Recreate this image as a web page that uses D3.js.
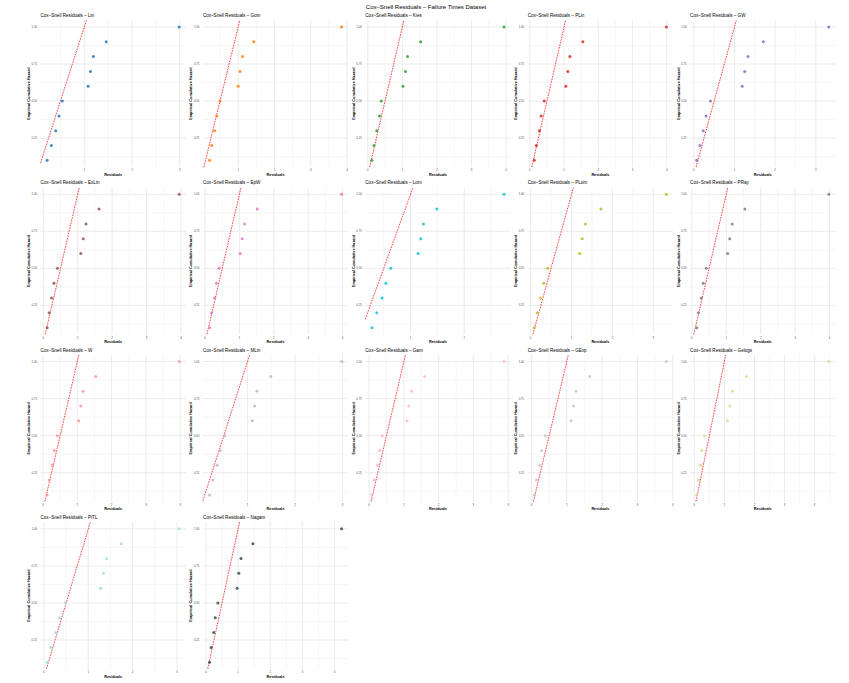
<!DOCTYPE html>
<html><head><meta charset="utf-8">
<script src="https://cdn.jsdelivr.net/npm/d3@7"></script>
<style>body{margin:0;background:#fff}svg{display:block}</style>
</head><body><svg id="c" width="849" height="683"></svg>
<script>
const mainTitle = "Cox–Snell Residuals – Failure Times Dataset";
const models = ["Lin","Gom","Kies","PLin","GW","ExLin","EpW","Lom","PLom","PRay","W","MLin","Gam","GExp","Gelogs","PiTL","Nagam"];
const modelColors = ["#1f77b4","#ff7f0e","#2ca02c","#d62728","#9467bd","#8c564b","#e377c2","#17becf","#bcbd22","#7f7f7f","#ff9896","#c5b0d5","#f7b6d2","#c7c7c7","#dbdb8d","#9edae5","#2f4f4f"];
const empiricalHazard = [0.1,0.2,0.3,0.4,0.5,0.6,0.7,0.8,0.9,1.0];
const resLin    = [0.22,0.31,0.40,0.47,0.54,1.08,1.13,1.19,1.46,2.99];
const resGom    = [0.21,0.27,0.35,0.41,0.50,1.00,1.05,1.12,1.43,3.85];
const resKies   = [0.12,0.18,0.26,0.34,0.39,1.02,1.09,1.15,1.53,3.94];
const resPLin   = [0.13,0.19,0.28,0.33,0.42,1.05,1.11,1.17,1.55,3.99];
const resGW     = [0.07,0.15,0.23,0.30,0.41,1.19,1.25,1.33,1.71,3.32];
const resExLin  = [0.11,0.17,0.24,0.31,0.41,1.09,1.16,1.24,1.62,3.95];
const resEpW    = [0.13,0.19,0.28,0.33,0.41,1.02,1.08,1.15,1.52,3.97];
const resLom    = [0.28,0.37,0.47,0.54,0.63,1.14,1.19,1.24,1.49,2.74];
const resPLom   = [0.09,0.16,0.24,0.32,0.42,1.20,1.26,1.34,1.72,3.32];
const resPRay   = [0.14,0.19,0.27,0.33,0.42,1.04,1.10,1.17,1.54,3.98];
const resW      = [0.12,0.18,0.27,0.33,0.42,1.04,1.10,1.17,1.54,3.97];
const resMLin   = [0.20,0.27,0.36,0.43,0.52,1.10,1.15,1.20,1.49,2.98];
const resGam    = [0.08,0.14,0.24,0.30,0.38,1.09,1.14,1.22,1.60,3.88];
const resGExp   = [0.08,0.14,0.23,0.29,0.39,1.12,1.19,1.26,1.65,3.82];
const resGelogs = [0.08,0.14,0.21,0.25,0.34,1.10,1.18,1.27,1.73,4.47];
const resPiTL   = [0.07,0.15,0.26,0.35,0.48,1.28,1.34,1.41,1.74,3.05];
const resNagam  = [0.11,0.16,0.24,0.29,0.37,0.97,1.02,1.09,1.46,4.22];
const residuals = [resLin,resGom,resKies,resPLin,resGW,resExLin,resEpW,resLom,resPLom,resPRay,resW,resMLin,resGam,resGExp,resGelogs,resPiTL,resNagam];
const yTicks = [0.25,0.50,0.75,1.00];
const yTickLabels = ["0.25","0.50","0.75","1.00"];
const yMinor = [0.125,0.375,0.625,0.875];

const svg = d3.select("#c");
const FONT = "'Liberation Sans', Arial, sans-serif";
const ncol = 5, colPitch = 162.4, rowPitch = 167.3, left0 = 40.5, top0 = 20.3, pw = 145.3, ph = 146.7;

svg.append("text").attr("x", 426).attr("y", 9.2).attr("text-anchor","middle")
  .attr("font-family", FONT).attr("font-size", 6).attr("fill","#000").text(mainTitle);

function expand(ext){ const s = ext[1]-ext[0]; return [ext[0]-0.05*s, ext[1]+0.05*s]; }

models.forEach((m, i) => {
  const r = Math.floor(i / ncol), c = i % ncol;
  const px = left0 + c*colPitch, py = top0 + r*rowPitch;
  const xs = residuals[i];
  const x = d3.scaleLinear().domain(expand(d3.extent(xs))).range([px, px+pw]);
  const y = d3.scaleLinear().domain(expand(d3.extent(empiricalHazard))).range([py+ph, py]);
  const g = svg.append("g");
  const [x0, x1] = x.domain();
  const xMajor = d3.range(Math.ceil(x0), Math.floor(x1)+1);
  const xMinorAll = d3.range(Math.ceil(x0)-1, Math.floor(x1)+1).map(v => v+0.5);
  const xMinor = xMinorAll.filter(v => v >= x0 && v <= x1);
  // minor grid
  g.selectAll(".ymn").data(yMinor).enter().append("line")
    .attr("x1", px).attr("x2", px+pw).attr("y1", d=>y(d)).attr("y2", d=>y(d))
    .attr("stroke","#ececec").attr("stroke-width",0.4);
  g.selectAll(".xmn").data(xMinor).enter().append("line")
    .attr("x1", d=>x(d)).attr("x2", d=>x(d)).attr("y1", py).attr("y2", py+ph)
    .attr("stroke","#ececec").attr("stroke-width",0.4);
  // major grid
  g.selectAll(".ymj").data(yTicks).enter().append("line")
    .attr("x1", px).attr("x2", px+pw).attr("y1", d=>y(d)).attr("y2", d=>y(d))
    .attr("stroke","#e6e6e6").attr("stroke-width",0.8);
  g.selectAll(".xmj").data(xMajor).enter().append("line")
    .attr("x1", d=>x(d)).attr("x2", d=>x(d)).attr("y1", py).attr("y2", py+ph)
    .attr("stroke","#e6e6e6").attr("stroke-width",0.8);
  // tick labels
  g.selectAll(".ytl").data(yTicks).enter().append("text")
    .attr("x", px-3.5).attr("y", d=>y(d)+1).attr("text-anchor","end")
    .attr("font-family", FONT).attr("font-size", 2.8).attr("fill","#4d4d4d")
    .text((d,k)=>yTickLabels[k]);
  g.selectAll(".xtl").data(xMajor).enter().append("text")
    .attr("x", d=>x(d)).attr("y", py+ph+4.2).attr("text-anchor","middle")
    .attr("font-family", FONT).attr("font-size", 2.8).attr("fill","#4d4d4d")
    .text(d=>d3.format("d")(d));
  // axis titles
  g.append("text").attr("x", px+pw/2).attr("y", py+ph+8.8).attr("text-anchor","middle")
    .attr("font-family", FONT).attr("font-size", 3.8).attr("font-weight","bold").attr("fill","#000")
    .text("Residuals");
  g.append("text").attr("transform", `translate(${px-10.5},${py+ph/2}) rotate(-90)`)
    .attr("text-anchor","middle")
    .attr("font-family", FONT).attr("font-size", 3.8).attr("font-weight","bold").attr("fill","#000")
    .text("Empirical Cumulative Hazard");
  // panel title
  g.append("text").attr("x", px).attr("y", py-3.4)
    .attr("font-family", FONT).attr("font-size", 4.6).attr("fill","#000")
    .text("Cox–Snell Residuals – " + m);
  // reference line y = x
  const t0 = Math.max(x0, y.domain()[0]), t1 = Math.min(x1, y.domain()[1]);
  g.append("line").attr("x1", x(t0)).attr("y1", y(t0)).attr("x2", x(t1)).attr("y2", y(t1))
    .attr("stroke","#ff0000").attr("stroke-width",0.75).attr("stroke-dasharray","1.6,1.1");
  // points
  g.selectAll("circle").data(xs).enter().append("circle")
    .attr("cx", d=>x(d)).attr("cy", (d,k)=>y(empiricalHazard[k])).attr("r", 1.5)
    .attr("fill", modelColors[i]).attr("fill-opacity", 0.85);
});
</script></body></html>
